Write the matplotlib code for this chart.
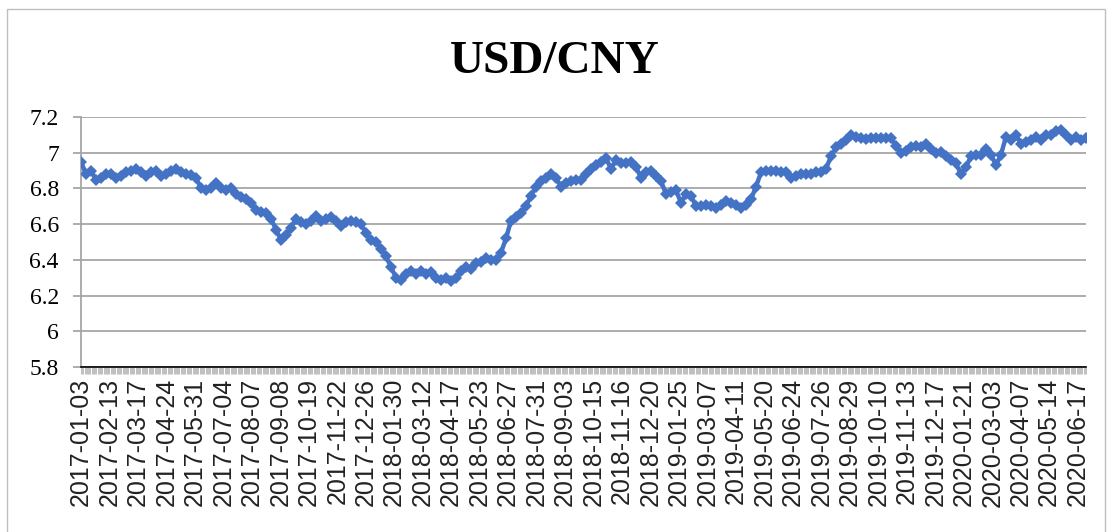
import numpy as np
import matplotlib
matplotlib.use("Agg")
import matplotlib.pyplot as plt
from matplotlib.ticker import FixedLocator
from matplotlib.patches import Rectangle

# USD/CNY daily rate (roughly every 4th trading day)
n_days = 848
rate = [
    6.95, 6.88, 6.90, 6.85, 6.86, 6.88, 6.88, 6.86, 6.87, 6.89,
    6.90, 6.91, 6.89, 6.87, 6.89, 6.90, 6.87, 6.88, 6.90, 6.91,
    6.89, 6.88, 6.875, 6.86, 6.80, 6.79, 6.80, 6.83, 6.80, 6.79,
    6.80, 6.77, 6.75, 6.74, 6.72, 6.68, 6.67, 6.66, 6.63, 6.57,
    6.51, 6.54, 6.58, 6.63, 6.61, 6.60, 6.62, 6.645, 6.62, 6.63,
    6.64, 6.62, 6.59, 6.61, 6.62, 6.61, 6.60, 6.55, 6.51, 6.50,
    6.46, 6.42, 6.36, 6.30, 6.29, 6.32, 6.34, 6.32, 6.34, 6.32,
    6.33, 6.30, 6.29, 6.30, 6.28, 6.30, 6.34, 6.36, 6.35, 6.38,
    6.39, 6.41, 6.40, 6.40, 6.44, 6.52, 6.62, 6.64, 6.66, 6.70,
    6.76, 6.81, 6.84, 6.86, 6.88, 6.86, 6.81, 6.83, 6.84, 6.85,
    6.85, 6.88, 6.91, 6.93, 6.95, 6.97, 6.91, 6.96, 6.94, 6.94,
    6.95, 6.92, 6.86, 6.89, 6.90, 6.87, 6.84, 6.77, 6.78, 6.79,
    6.72, 6.77, 6.76, 6.70, 6.70, 6.71, 6.70, 6.69, 6.71, 6.73,
    6.72, 6.71, 6.69, 6.71, 6.74, 6.81, 6.89, 6.90, 6.90, 6.90,
    6.89, 6.89, 6.86, 6.87, 6.88, 6.88, 6.88, 6.89, 6.89, 6.91,
    6.98, 7.03, 7.05, 7.07, 7.10, 7.09, 7.08, 7.075, 7.08, 7.08,
    7.08, 7.08, 7.08, 7.04, 7.00, 7.01, 7.03, 7.035, 7.03, 7.05,
    7.02, 7.00, 7.005, 6.98, 6.96, 6.94, 6.88, 6.92, 6.98, 6.99,
    6.99, 7.02, 6.99, 6.93, 6.99, 7.09, 7.07, 7.10, 7.05, 7.06,
    7.07, 7.09, 7.07, 7.10, 7.10, 7.12, 7.13, 7.10, 7.07, 7.09,
    7.07, 7.08,
]

date_labels = [
    "2017-01-03", "2017-02-13", "2017-03-17", "2017-04-24", "2017-05-31",
    "2017-07-04", "2017-08-07", "2017-09-08", "2017-10-19", "2017-11-22",
    "2017-12-26", "2018-01-30", "2018-03-12", "2018-04-17", "2018-05-23",
    "2018-06-27", "2018-07-31", "2018-09-03", "2018-10-15", "2018-11-16",
    "2018-12-20", "2019-01-25", "2019-03-07", "2019-04-11", "2019-05-20",
    "2019-06-24", "2019-07-26", "2019-08-29", "2019-10-10", "2019-11-13",
    "2019-12-17", "2020-01-21", "2020-03-03", "2020-04-07", "2020-05-14",
    "2020-06-17",
]
label_every = 24

blue = "#4472C4"
grid_gray = "#A6A6A6"

fig = plt.figure(figsize=(11.1, 5.32), dpi=100)
ax = fig.add_axes([81 / 1110, 1 - 367 / 532, (1086 - 81) / 1110, 250 / 532])

x = np.linspace(0, n_days - 1, len(rate))
ax.plot(x, rate, color=blue, linewidth=3.2, marker="D", markersize=6.5,
        markeredgewidth=0, zorder=3)

ax.set_xlim(0, n_days - 1)
ax.set_ylim(5.8, 7.2)
ax.set_yticks(np.arange(5.8, 7.21, 0.2))
ax.set_yticklabels(["5.8", "6", "6.2", "6.4", "6.6", "6.8", "7", "7.2"],
                   fontfamily="Liberation Serif", fontsize=17)
ax.yaxis.grid(True, color=grid_gray, linewidth=1.3)
ax.set_axisbelow(True)

ax.set_xticks(np.arange(len(date_labels)) * label_every)
ax.set_xticklabels(date_labels, rotation=90, fontfamily="Liberation Sans",
                   fontsize=18, color="#222222")
# a tick for every trading day, as Excel draws them
ax.xaxis.set_minor_locator(FixedLocator(np.arange(n_days)))
ax.tick_params(axis="x", which="both", length=5, color="#BEBEBE", width=0.7, pad=3)
ax.tick_params(axis="y", length=6, color=grid_gray, width=1.3, pad=10)

for side in ["top", "right"]:
    ax.spines[side].set_visible(False)
ax.spines["left"].set_color(grid_gray)
ax.spines["left"].set_linewidth(1.3)
ax.spines["bottom"].set_color("black")
ax.spines["bottom"].set_linewidth(1.2)

fig.text(0.5, 1 - 62 / 532, "USD/CNY", ha="center", va="center",
         fontfamily="Liberation Serif", fontweight="bold", fontsize=34)

# chart area border
fig.patches.append(Rectangle((7 / 1110, -0.01), 1098 / 1110, 1 - 9 / 532 + 0.01,
                             transform=fig.transFigure, fill=False,
                             edgecolor="#BFBFBF", linewidth=1))

fig.savefig("out.png", dpi=100)
